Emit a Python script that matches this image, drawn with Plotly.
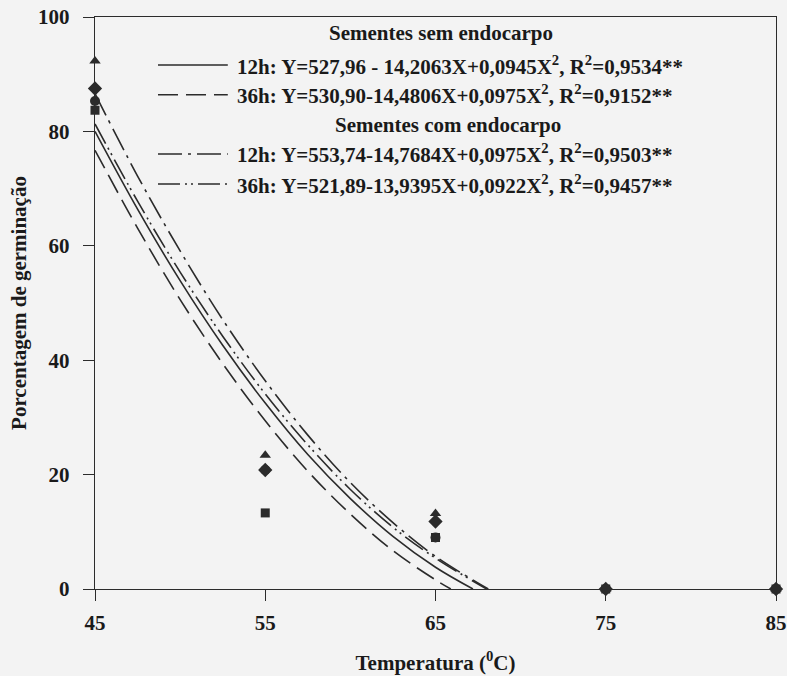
import plotly.graph_objects as go

# Observed data (temperature, % germination)
temps = [45, 55, 65, 75, 85]
obs_sem_12h = [83.7, 13.3, 9.0, 0, 0]     # square
obs_sem_36h = [85.3, 20.8, 9.0, 0, 0]     # circle
obs_com_12h = [92.3, 23.4, 13.2, 0, 0]    # triangle
obs_com_36h = [87.5, 20.8, 11.8, 0, 0]    # diamond

# Fitted curves, values
fit_x_sem_12h = [45, 47.5, 50, 52.5, 55, 57.5, 60, 62.5, 65, 67.2]
fit_y_sem_12h = [80.0, 66.4, 53.9, 42.6, 32.5, 23.5, 15.8, 9.2, 3.8, 0.0]
fit_x_sem_36h = [45, 47.5, 50, 52.5, 55, 57.5, 60, 62.5, 65, 65.9]
fit_y_sem_36h = [76.7, 63.1, 50.6, 39.4, 29.4, 20.6, 13.1, 6.7, 1.6, 0.0]
fit_x_com_12h = [45, 47.5, 50, 52.5, 55, 57.5, 60, 62.5, 65, 68.1]
fit_y_com_12h = [86.6, 72.2, 59.1, 47.1, 36.4, 26.9, 18.6, 11.6, 5.7, 0.0]
fit_x_com_36h = [45, 47.5, 50, 52.5, 55, 57.5, 60, 62.5, 65, 68.0]
fit_y_com_36h = [81.3, 67.8, 55.4, 44.2, 34.1, 25.2, 17.4, 10.8, 5.4, 0.0]

x_ticks = [45, 55, 65, 75, 85]
y_ticks = [0, 20, 40, 60, 80, 100]

hdr_sem = "Sementes sem endocarpo"
hdr_com = "Sementes com endocarpo"
lbl_sem_12h = "12h: Y=527,96 - 14,2063X+0,0945X<sup>2</sup>, R<sup>2</sup>=0,9534**"
lbl_sem_36h = "36h: Y=530,90-14,4806X+0,0975X<sup>2</sup>, R<sup>2</sup>=0,9152**"
lbl_com_12h = "12h: Y=553,74-14,7684X+0,0975X<sup>2</sup>, R<sup>2</sup>=0,9503**"
lbl_com_36h = "36h: Y=521,89-13,9395X+0,0922X<sup>2</sup>, R<sup>2</sup>=0,9457**"

INK = "#2b2b2b"
TXT = "#1a1a1a"
BG = "#f3f3f3"
FONT = "Times New Roman, Liberation Serif, serif"

dash_sem_12h = "solid"
dash_sem_36h = "20px,8px"
dash_com_12h = "24px,6px,3px,6px"
dash_com_36h = "22px,5px,2px,4px,2px,5px"

fig = go.Figure()

curves = [
    (fit_x_sem_12h, fit_y_sem_12h, dash_sem_12h),
    (fit_x_sem_36h, fit_y_sem_36h, dash_sem_36h),
    (fit_x_com_12h, fit_y_com_12h, dash_com_12h),
    (fit_x_com_36h, fit_y_com_36h, dash_com_36h),
]
for fx, fy, d in curves:
    fig.add_trace(go.Scatter(x=fx, y=fy, mode="lines", line=dict(color=INK, width=1.6, dash=d, shape="spline"),
                             showlegend=False, cliponaxis=False))

obs = [
    (obs_sem_12h, "square", 9),
    (obs_sem_36h, "circle", 10),
    (obs_com_12h, "triangle-up", 10),
    (obs_com_36h, "diamond", 11),
]
for vals, sym, sz in obs:
    fig.add_trace(go.Scatter(x=temps, y=vals, mode="markers",
                             marker=dict(symbol=sym, size=sz, color=INK),
                             showlegend=False, cliponaxis=False))

# Manual legend: line samples + text
leg_rows = [
    (0.916, dash_sem_12h, lbl_sem_12h),
    (0.864, dash_sem_36h, lbl_sem_36h),
    (0.7605, dash_com_12h, lbl_com_12h),
    (0.708, dash_com_36h, lbl_com_36h),
]
x0s, x1s, xt = 0.0925, 0.195, 0.205
for yy, d, txt in leg_rows:
    fig.add_shape(type="line", xref="paper", yref="paper", x0=x0s, x1=x1s, y0=yy, y1=yy,
                  line=dict(color=INK, width=1.6, dash=d))
    fig.add_annotation(xref="paper", yref="paper", x=xt, y=yy, xanchor="left", yanchor="middle",
                       text=txt, showarrow=False, font=dict(family=FONT, size=21, color=TXT, weight="bold"))
for yy, xc, txt in [(0.972, 0.508, hdr_sem), (0.811, 0.518, hdr_com)]:
    fig.add_annotation(xref="paper", yref="paper", x=xc, y=yy, xanchor="center", yanchor="middle",
                       text=txt, showarrow=False, font=dict(family=FONT, size=21, color=TXT, weight="bold"))

axis_common = dict(
    showline=True, linecolor=INK, linewidth=1.4, mirror=True,
    ticks="outside", ticklen=11, tickwidth=1.2, tickcolor=INK,
    showgrid=False, zeroline=False, ticklabeloverflow="allow", automargin=False,
    tickfont=dict(family=FONT, size=21, color=TXT, weight="bold"),
)

fig.update_xaxes(range=[45, 85], tickvals=x_ticks, ticktext=[str(v) for v in x_ticks],
                 ticklabelstandoff=4,
                 title=dict(text="Temperatura (<sup>0</sup>C)", standoff=20,
                            font=dict(family=FONT, size=21, color=TXT, weight="bold")),
                 **axis_common)
fig.update_yaxes(range=[0, 100], tickvals=y_ticks, ticktext=[str(v) for v in y_ticks],
                 ticklabelstandoff=9,
                 title=dict(text="Porcentagem de germinação", standoff=5,
                            font=dict(family=FONT, size=21, color=TXT, weight="bold")),
                 **axis_common)

fig.update_layout(
    width=787, height=676,
    margin=dict(l=95, r=11, t=17, b=87),
    paper_bgcolor=BG, plot_bgcolor=BG,
    showlegend=False,
)

fig.write_html("out.html", config={"displayModeBar": False},
               post_script="document.body.style.margin='0';document.body.style.background='#f3f3f3';")
